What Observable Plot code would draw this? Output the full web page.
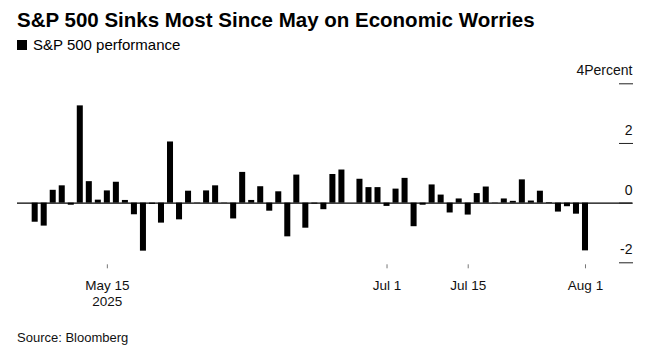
<!DOCTYPE html>
<html>
<head>
<meta charset="utf-8">
<script src="https://cdn.jsdelivr.net/npm/d3@7"></script>
<script src="https://cdn.jsdelivr.net/npm/@observablehq/plot@0.6"></script>
<style>
  html, body { margin: 0; padding: 0; background: #fff; }
  #root { position: relative; width: 646px; height: 357px; overflow: hidden; font-family: "Liberation Sans", Arial, sans-serif; color: #000; }
  #title { position: absolute; left: 17px; top: 8px; font-size: 20.5px; font-weight: bold; white-space: nowrap; }
  #legend { position: absolute; left: 17px; top: 36px; font-size: 15px; white-space: nowrap; display: flex; align-items: center; }
  #legend .sw { width: 10px; height: 10px; background: #000; margin-right: 6px; display: inline-block; }
  #chart { position: absolute; left: 0; top: 58px; }
  #source { position: absolute; left: 17px; top: 330px; font-size: 13px; white-space: nowrap; color: #111; }
</style>
</head>
<body>
<div id="root">
  <div id="title">S&amp;P 500 Sinks Most Since May on Economic Worries</div>
  <div id="legend"><span class="sw"></span>S&amp;P 500 performance</div>
  <div id="chart"></div>
  <div id="source">Source: Bloomberg</div>
</div>
<script>
// Trading days (2025) and daily % change of the S&P 500
const dates = [
  "May 5","May 6","May 7","May 8","May 9","May 12","May 13","May 14","May 15","May 16",
  "May 19","May 20","May 21","May 22","May 23","May 27","May 28","May 29","May 30",
  "Jun 2","Jun 3","Jun 4","Jun 5","Jun 6","Jun 9","Jun 10","Jun 11","Jun 12","Jun 13",
  "Jun 16","Jun 17","Jun 18","Jun 20","Jun 23","Jun 24","Jun 25","Jun 26","Jun 27","Jun 30",
  "Jul 1","Jul 2","Jul 3","Jul 7","Jul 8","Jul 9","Jul 10","Jul 11","Jul 14","Jul 15",
  "Jul 16","Jul 17","Jul 18","Jul 21","Jul 22","Jul 23","Jul 24","Jul 25","Jul 28","Jul 29",
  "Jul 30","Jul 31","Aug 1"
];
const performance = [
  -0.64,-0.77,0.43,0.58,-0.07,3.26,0.72,0.10,0.41,0.70,
  0.09,-0.39,-1.61,-0.04,-0.67,2.05,-0.56,0.40,-0.01,
  0.41,0.58,0.01,-0.53,1.03,0.09,0.55,-0.27,0.38,-1.13,
  0.94,-0.84,-0.03,-0.22,0.96,1.11,0.00,0.80,0.52,0.52,
  -0.11,0.47,0.83,-0.79,-0.07,0.61,0.27,-0.33,0.14,-0.40,
  0.32,0.54,-0.01,0.14,0.06,0.78,0.07,0.40,0.02,-0.30,
  -0.12,-0.37,-1.60
];
const tickDates = ["May 15","Jul 1","Jul 15","Aug 1"];
const tickLabels = ["May 15\n2025","Jul 1","Jul 15","Aug 1"];
const yTicks = [-2, 0, 2, 4];
const yTickLabels = ["-2","0","2","4Percent"];

const data = dates.map((d, i) => ({i, date: d, value: performance[i]}));
const xTicks = tickDates.map(d => dates.indexOf(d));

const plot = Plot.plot({
  width: 646,
  height: 260,
  marginLeft: 17,
  marginRight: 14,
  marginTop: 25.3,
  marginBottom: 55.7,
  style: {fontFamily: '"Liberation Sans", Arial, sans-serif', fontSize: "13px", color: "#000", background: "transparent"},
  x: {type: "linear", domain: [-1.96, 66.21]},
  y: {domain: [-2, 4]},
  marks: [
    Plot.rectY(data, {
      x1: d => d.i - 0.5,
      x2: d => d.i + 0.5,
      y1: 0,
      y2: "value",
      insetLeft: 1.5,
      insetRight: 1.5,
      fill: "#000"
    }),
    Plot.ruleY([0], {stroke: "#000", strokeWidth: 1.2}),
    Plot.axisY(yTicks, {anchor: "right", tickSize: -14, fill: "none", stroke: "#222", label: null}),
    Plot.axisY(yTicks, {
      anchor: "right", tickSize: 0, tickPadding: 0, textAnchor: "end", dy: -13, label: null,
      fill: "#111", fontSize: 14,
      tickFormat: d => yTickLabels[yTicks.indexOf(d)]
    }),
    Plot.axisX(xTicks, {
      anchor: "bottom", tickSize: 4, dy: 2, tickPadding: 10.5, stroke: "#777", fill: "#111",
      lineHeight: 1.15, label: null, fontSize: 13.5,
      tickFormat: d => tickLabels[xTicks.indexOf(d)]
    })
  ]
});
document.getElementById("chart").appendChild(plot);
</script>
</body>
</html>
